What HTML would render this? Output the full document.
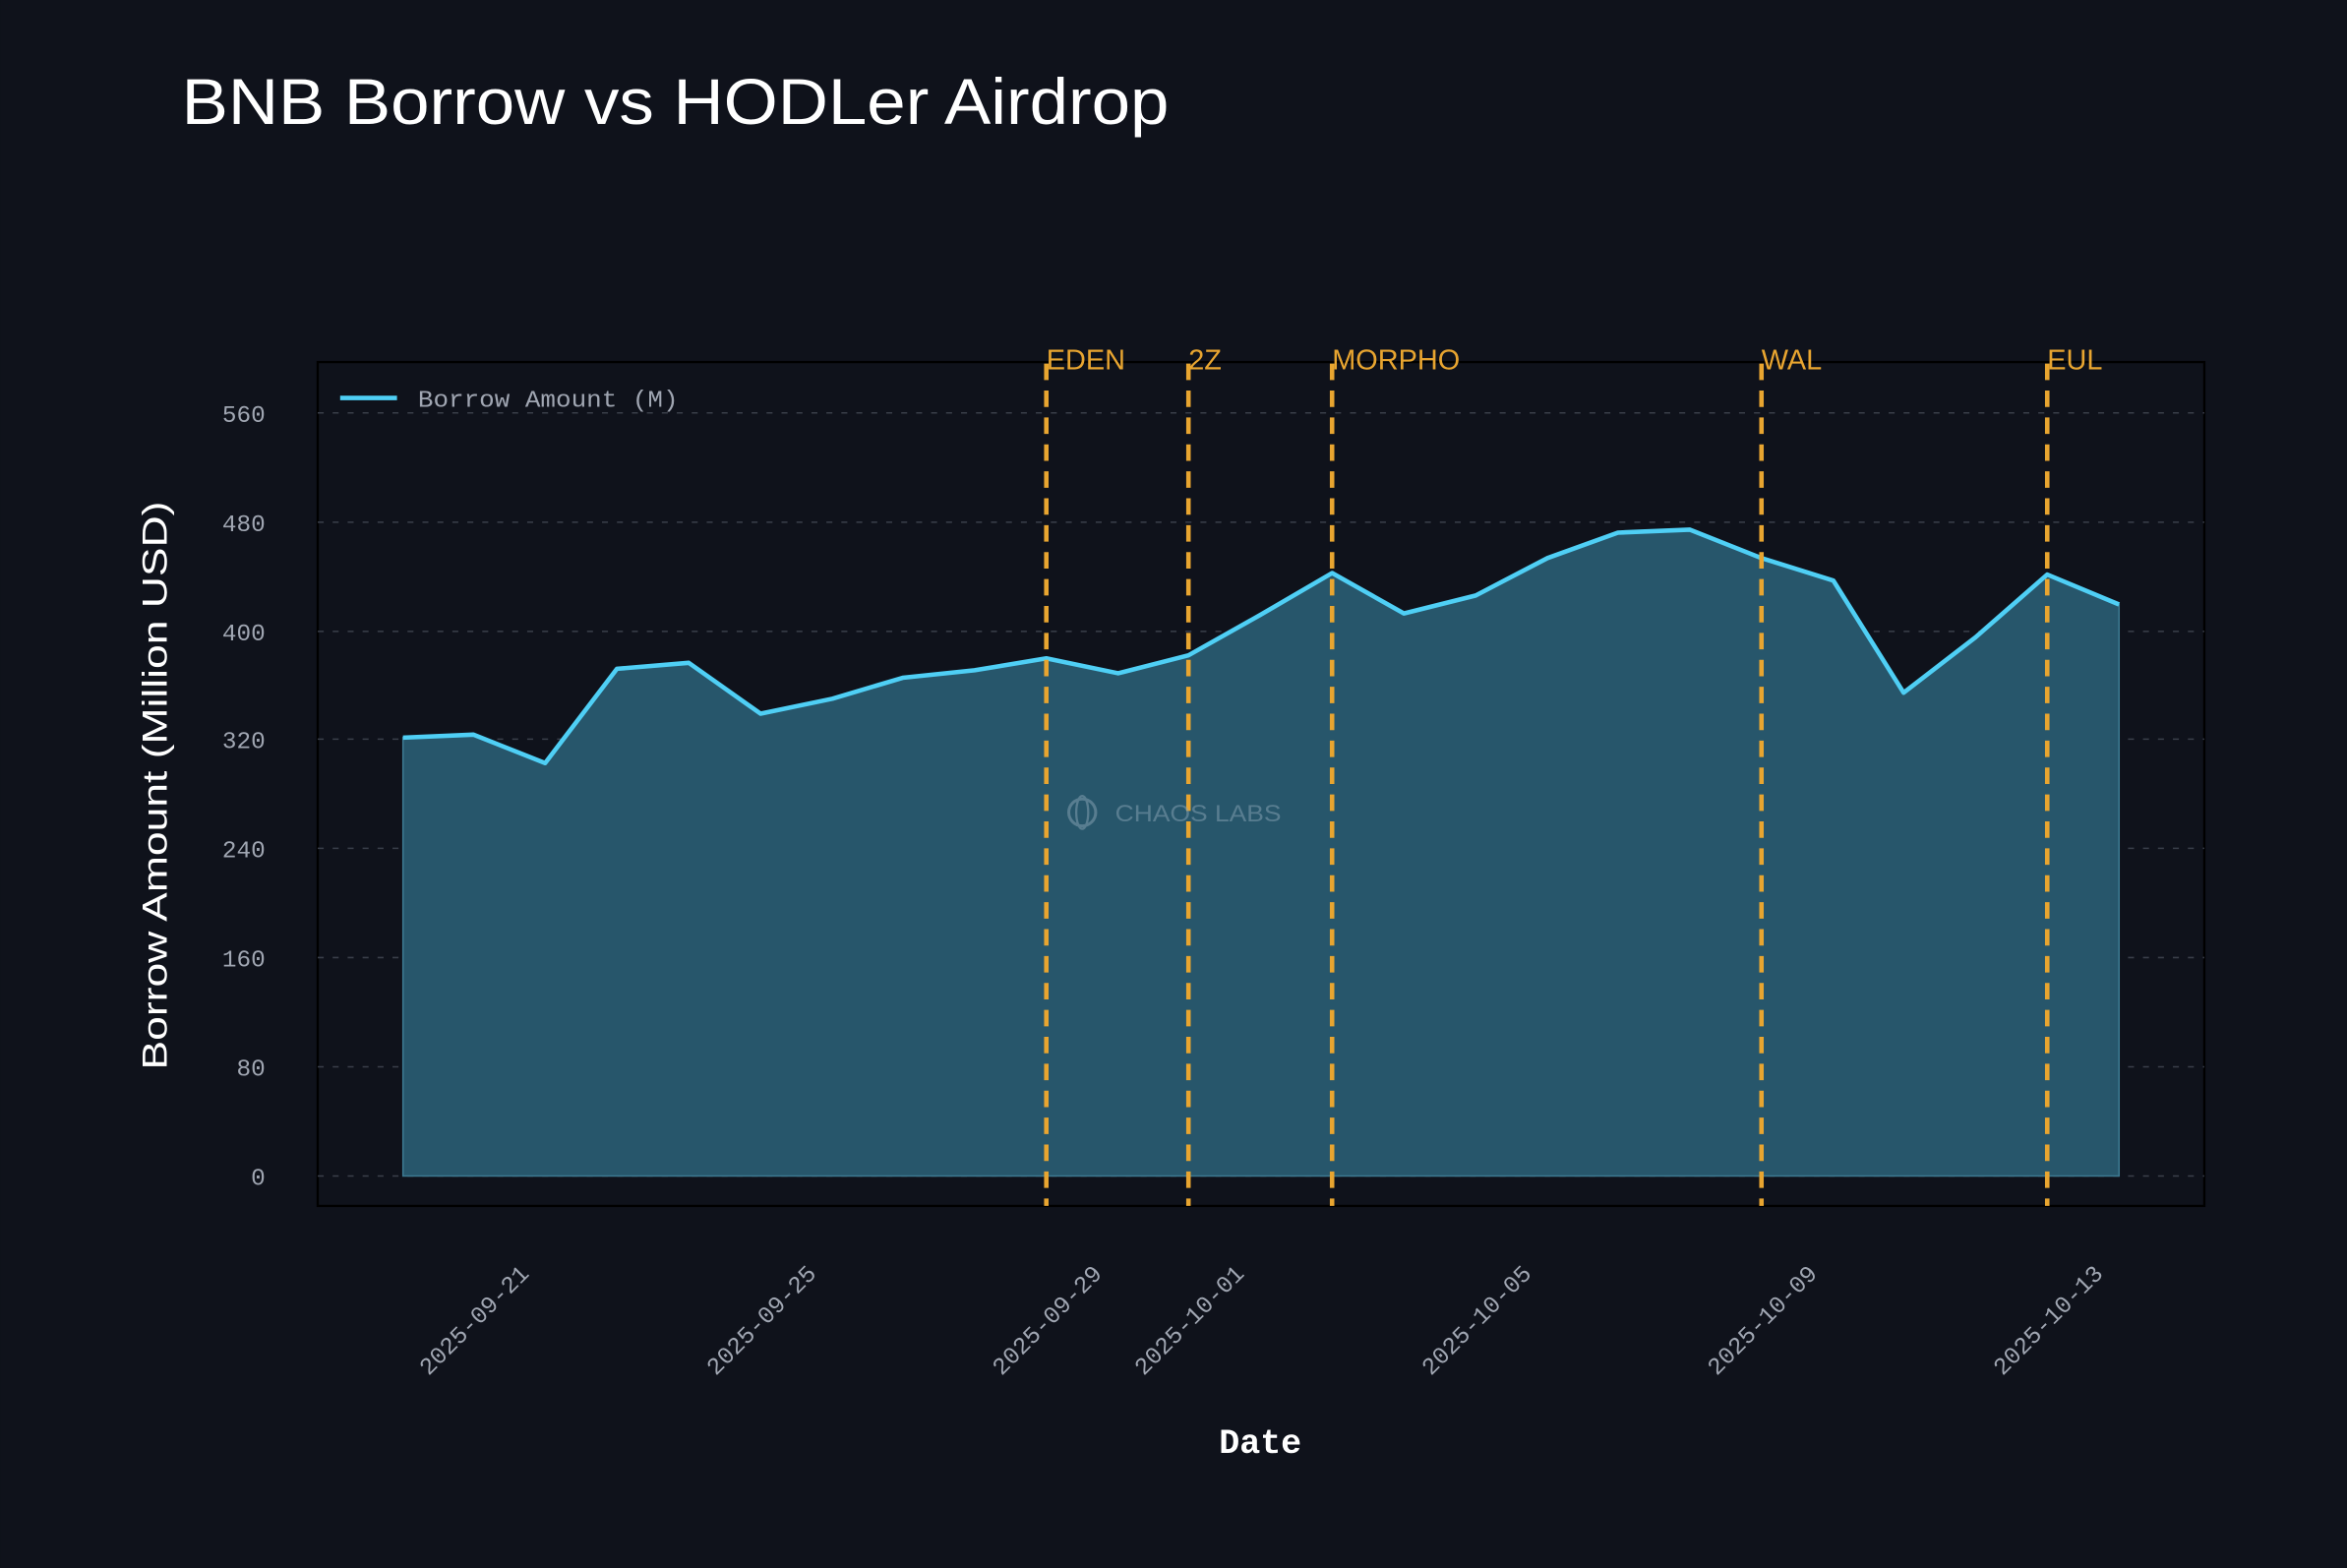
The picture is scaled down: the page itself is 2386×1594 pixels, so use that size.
<!DOCTYPE html>
<html><head><meta charset="utf-8"><style>
html,body{margin:0;padding:0;background:#0f121b;}
svg{display:block;}
</style></head><body>
<svg width="2386" height="1594" viewBox="0 0 1568 1048" xmlns="http://www.w3.org/2000/svg">
<rect x="0" y="0" width="1568" height="1048" fill="#0f121b"/>
<text x="121" y="83" font-family="Liberation Sans, sans-serif" font-size="43" fill="#ffffff" textLength="660" lengthAdjust="spacingAndGlyphs">BNB Borrow vs HODLer Airdrop</text>
<rect x="212" y="242" width="1261" height="564" fill="#0f121b" stroke="#000" stroke-width="1.5"/>
<g stroke="#3a3f4a" stroke-width="1" stroke-dasharray="4,6">
<line x1="212" x2="1473" y1="786" y2="786"/><line x1="212" x2="1473" y1="713" y2="713"/>
<line x1="212" x2="1473" y1="640" y2="640"/><line x1="212" x2="1473" y1="567" y2="567"/>
<line x1="212" x2="1473" y1="494" y2="494"/><line x1="212" x2="1473" y1="422" y2="422"/>
<line x1="212" x2="1473" y1="349" y2="349"/><line x1="212" x2="1473" y1="276" y2="276"/>
</g>
<g font-family="Liberation Mono, monospace" font-size="16" fill="#a0a6b2" text-anchor="end">
<text x="177" y="792">0</text><text x="177" y="719">80</text><text x="177" y="646">160</text>
<text x="177" y="573">240</text><text x="177" y="500">320</text><text x="177" y="428">400</text>
<text x="177" y="355">480</text><text x="177" y="282">560</text>
</g>
<polygon fill="#27566b" stroke="#3d7a92" stroke-width="1" points="269,786 269,493 316,491 364,510 412,447 460,443 508,477 556,467 603,453 651,448 699,440 747,450 794,438 842,411 890,383 938,410 986,398 1034,373 1081,356 1129,354 1177,373 1225,388 1272,463 1320,426 1368,384 1416,404 1416,786"/>
<polyline fill="none" stroke="#4fcff5" stroke-width="3" stroke-linejoin="round" points="269,493 316,491 364,510 412,447 460,443 508,477 556,467 603,453 651,448 699,440 747,450 794,438 842,411 890,383 938,410 986,398 1034,373 1081,356 1129,354 1177,373 1225,388 1272,463 1320,426 1368,384 1416,404"/>
<g stroke="#e8a530" stroke-width="3" stroke-dasharray="11,7">
<line x1="699" x2="699" y1="243" y2="806"/><line x1="794" x2="794" y1="243" y2="806"/>
<line x1="890" x2="890" y1="243" y2="806"/><line x1="1177" x2="1177" y1="243" y2="806"/>
<line x1="1368" x2="1368" y1="243" y2="806"/>
</g>
<g font-family="Liberation Sans, sans-serif" font-size="19" fill="#e8a530">
<text x="699" y="247">EDEN</text><text x="794" y="247">2Z</text><text x="890" y="247">MORPHO</text>
<text x="1177" y="247">WAL</text><text x="1368" y="247">EUL</text>
</g>
<line x1="227" x2="265" y1="266" y2="266" stroke="#4fcff5" stroke-width="3"/>
<text x="279" y="272" font-family="Liberation Mono, monospace" font-size="16" fill="#a0a6b2" textLength="174" lengthAdjust="spacingAndGlyphs">Borrow Amount (M)</text>
<g opacity="0.5" fill="#8aa5b5" font-family="Liberation Sans, sans-serif" font-size="16">
<circle cx="723" cy="543" r="9" fill="none" stroke="#8aa5b5" stroke-width="2"/>
<ellipse cx="723" cy="543" rx="4" ry="11" fill="none" stroke="#8aa5b5" stroke-width="1.5"/>
<text x="745" y="549" textLength="111" lengthAdjust="spacingAndGlyphs">CHAOS LABS</text>
</g>
<g font-family="Liberation Mono, monospace" font-size="16" fill="#a0a6b2" text-anchor="end">
<text transform="translate(354,852) rotate(-45)">2025-09-21</text>
<text transform="translate(546,852) rotate(-45)">2025-09-25</text>
<text transform="translate(737,852) rotate(-45)">2025-09-29</text>
<text transform="translate(832,852) rotate(-45)">2025-10-01</text>
<text transform="translate(1024,852) rotate(-45)">2025-10-05</text>
<text transform="translate(1215,852) rotate(-45)">2025-10-09</text>
<text transform="translate(1406,852) rotate(-45)">2025-10-13</text>
</g>
<text x="842" y="971" text-anchor="middle" font-family="Liberation Mono, monospace" font-size="23" font-weight="bold" fill="#ffffff">Date</text>
<text transform="translate(111,525) rotate(-90)" text-anchor="middle" font-family="Liberation Sans, sans-serif" font-size="23" fill="#ffffff" textLength="380" lengthAdjust="spacingAndGlyphs">Borrow Amount (Million USD)</text>
</svg>
</body></html>
